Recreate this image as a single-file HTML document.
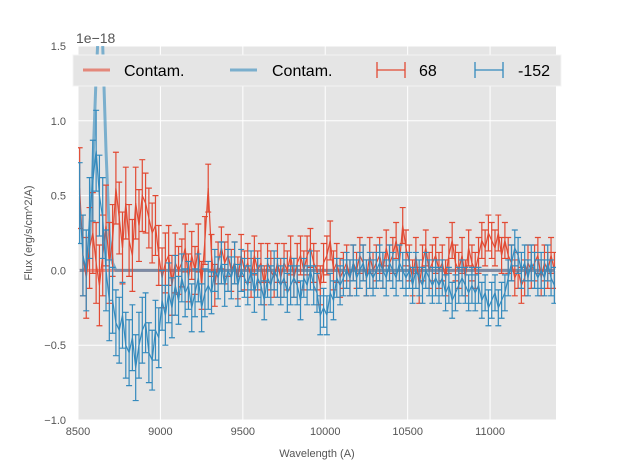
<!DOCTYPE html>
<html><head><meta charset="utf-8"><style>
html,body{margin:0;padding:0;background:#fff;}
svg{display:block;font-family:"Liberation Sans",sans-serif;}
</style></head><body>
<svg id="chart" width="617" height="467" viewBox="0 0 617 467">
<defs><clipPath id="plotclip"><rect x="78" y="46" width="478" height="374"/></clipPath></defs>
<rect x="78" y="46" width="478" height="374" fill="#e5e5e5"/>
<g id="grid"></g>
<g id="xticks"></g>
<g id="yticks"></g>
<g id="series" clip-path="url(#plotclip)"></g>
<text x="76" y="43" font-size="14" fill="#555">1e−18</text>
<text x="317" y="457" font-size="11" fill="#555" text-anchor="middle">Wavelength (A)</text>
<text transform="translate(32,233) rotate(-90)" font-size="11" fill="#555" text-anchor="middle">Flux (erg/s/cm^2/A)</text>
<g>
<rect x="73" y="55" width="488" height="31" fill="#e5e5e5" stroke="#f4f4f4" stroke-width="1"/>
<g>
<line x1="83" y1="70" x2="110" y2="70" stroke="#E24A33" stroke-opacity="0.6" stroke-width="3"/>
<text x="124" y="76" font-size="16" fill="#000">Contam.</text></g>
<g>
<line x1="230" y1="70" x2="257" y2="70" stroke="#348ABD" stroke-opacity="0.6" stroke-width="3"/>
<text x="272" y="76" font-size="16" fill="#000">Contam.</text></g>
<g stroke="#E24A33" stroke-width="1.3">
<line x1="377" y1="70" x2="405" y2="70"/><line x1="377" y1="62" x2="377" y2="78"/><line x1="405" y1="62" x2="405" y2="78"/>
<text x="419" y="76" font-size="16" fill="#000" stroke="none">68</text></g>
<g stroke="#348ABD" stroke-width="1.3">
<line x1="475" y1="70" x2="503" y2="70"/><line x1="475" y1="62" x2="475" y2="78"/><line x1="503" y1="62" x2="503" y2="78"/>
<text x="518" y="76" font-size="16" fill="#000" stroke="none">-152</text></g>
</g>
</svg>
<script>
const xTicks=[8500,9000,9500,10000,10500,11000];
const xTickLabels=["8500","9000","9500","10000","10500","11000"];
const yTicks=[-1.0,-0.5,0.0,0.5,1.0,1.5];
const yTickLabels=["−1.0","−0.5","0.0","0.5","1.0","1.5"];
const waveStart=8510, waveStep=20;
const redVals=[0.55,0.1,-0.05,0.15,0.25,0.05,-0.1,0.1,0.3,0.05,
0.2,0.55,0.35,0.15,0.45,0.2,0.1,0.45,0.3,0.5,
0.45,0.35,0.25,0.3,0.1,-0.05,0.05,0.1,-0.1,0.05,
0.0,0.05,0.15,-0.05,0.1,0.0,0.15,-0.1,0.2,0.55,
0.1,-0.1,0.05,0.15,0.05,0.1,0.0,0.05,-0.05,0.1,
0.0,0.05,-0.05,0.1,0.0,0.05,-0.1,0.05,0.0,-0.05,
0.05,-0.05,0.05,0.0,0.1,-0.05,0.05,0.1,0.0,0.1,
0.15,0.05,0.0,-0.1,0.05,0.1,0.2,0.0,0.05,-0.05,
0.0,0.05,-0.05,0.05,0.0,0.1,0.05,-0.05,0.1,0.0,
0.05,0.1,0.0,0.15,0.05,0.1,0.2,0.05,0.3,0.15,
0.05,-0.05,0.1,-0.1,0.05,0.15,0.0,0.05,0.1,0.0,
0.05,-0.05,0.1,0.2,0.05,0.0,0.1,-0.05,0.15,0.05,
0.0,0.1,0.2,0.15,0.25,0.2,0.15,0.25,0.1,0.2,
0.1,0.05,-0.05,0.0,-0.1,-0.05,0.05,0.0,0.05,0.1,
-0.05,0.05,0.0,0.1,0.0];
const blueVals=[0.45,0.1,0.0,0.35,0.6,0.8,0.5,0.35,0.0,-0.2,
-0.2,-0.35,-0.4,-0.3,-0.5,-0.55,-0.45,-0.65,-0.5,-0.4,
-0.35,-0.55,-0.6,-0.4,-0.45,-0.2,-0.3,-0.15,-0.25,-0.1,
-0.2,-0.05,-0.15,-0.1,-0.25,-0.15,-0.05,-0.25,-0.15,-0.1,
-0.15,0.0,-0.05,0.05,-0.1,0.0,-0.05,0.05,-0.1,0.0,
-0.05,-0.1,0.0,-0.15,-0.05,-0.1,-0.2,-0.05,-0.1,0.0,
-0.05,-0.1,-0.05,-0.15,-0.1,-0.05,-0.1,-0.2,-0.05,-0.1,
0.0,-0.1,-0.15,-0.3,-0.25,-0.3,-0.15,-0.2,-0.05,-0.1,
-0.05,0.0,-0.05,0.05,-0.05,0.0,0.05,-0.05,0.0,-0.05,
0.0,0.05,0.0,-0.05,0.05,0.0,-0.05,0.05,0.0,-0.05,
0.0,-0.1,0.0,-0.05,-0.1,0.0,-0.05,-0.1,-0.05,-0.1,
-0.05,-0.15,-0.1,-0.2,-0.15,-0.1,-0.05,-0.1,-0.15,-0.1,
-0.15,-0.1,-0.2,-0.15,-0.25,-0.2,-0.15,-0.25,-0.2,-0.15,
-0.05,0.05,0.15,0.1,0.0,0.05,-0.05,0.05,0.0,-0.05,
0.0,-0.05,0.05,-0.05,-0.1];
const redErrBlocks=[0.27,0.24,0.2,0.16,0.14,0.13,0.13,0.13,0.12,0.12,0.12,0.12,0.12,0.12,0.12];
const blueErrBlocks=[0.27,0.22,0.2,0.16,0.14,0.13,0.13,0.13,0.12,0.12,0.12,0.12,0.12,0.12,0.12];
const contamBlue=[0,0,0.02,0.2,0.7,1.3,1.75,1.5,0.8,0.25,0.05,0];
const NS="http://www.w3.org/2000/svg";
const X0=78,X1=556,Y0=420,Y1=46;
function xs(w){return X0+(w-8500)/(11400-8500)*(X1-X0);}
function ys(v){return Y0-(v+1.0)/2.5*(Y0-Y1);}
function mk(tag,attrs,parent){const e=document.createElementNS(NS,tag);for(const k in attrs)e.setAttribute(k,attrs[k]);parent.appendChild(e);return e;}
const grid=document.getElementById('grid'),xt=document.getElementById('xticks'),yt=document.getElementById('yticks'),ser=document.getElementById('series');
xTicks.forEach((t,i)=>{const x=xs(t);
 const g=mk('line',{x1:x,x2:x,y1:Y1,y2:Y0,stroke:'#fff','stroke-width':1},grid);
 
 
 const l=mk('text',{x:x,y:Y0+15,'font-size':11,fill:'#555','text-anchor':'middle'},xt);l.textContent=xTickLabels[i];
 
 
});
yTicks.forEach((t,i)=>{const y=ys(t);
 const g=mk('line',{x1:X0,x2:X1,y1:y,y2:y,stroke:'#fff','stroke-width':1},grid);
 
 
 const l=mk('text',{x:X0-12,y:y+4,'font-size':11,fill:'#555','text-anchor':'end'},yt);l.textContent=yTickLabels[i];
 
 
});
function wave(i){return waveStart+i*waveStep;}
const nPts=redVals.length;
let pr='',pb='';
for(let i=0;i<nPts;i++){pr+=(i?'L':'M')+xs(wave(i))+','+ys(0);
 const c=i<contamBlue.length?contamBlue[i]:0;pb+=(i?'L':'M')+xs(wave(i))+','+ys(c);}
const cr=mk('path',{d:pr,fill:'none',stroke:'#E24A33','stroke-opacity':0.6,'stroke-width':3},ser);


const cb=mk('path',{d:pb,fill:'none',stroke:'#348ABD','stroke-opacity':0.6,'stroke-width':3},ser);


function drawSeries(vals,errs,color,name){
 const g=mk('g',{stroke:color,'stroke-width':1.2,fill:'none'},ser);
 
 
 let d='';
 vals.forEach((v,i)=>{const x=xs(wave(i)),y=ys(v);d+=(i?'L':'M')+x+','+y;
  const e=errs[Math.floor(i/10)];const ya=ys(v+e),yb=ys(v-e);
  const b=mk('path',{d:`M${x},${ya}L${x},${yb}M${x-3},${ya}L${x+3},${ya}M${x-3},${yb}L${x+3},${yb}`},g);
  
  
 });
 const p=mk('path',{d:d},g);
 
 
}
drawSeries(redVals,redErrBlocks,'#E24A33','series-68');
drawSeries(blueVals,blueErrBlocks,'#348ABD','series-minus152');
</script>
</body></html>
